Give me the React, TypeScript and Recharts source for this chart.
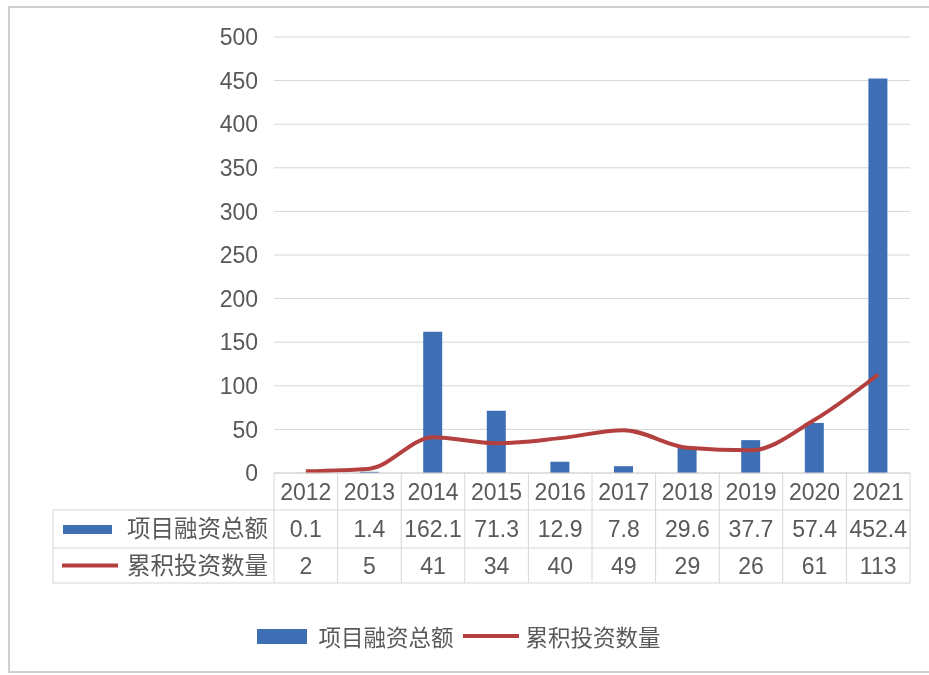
import {
  ComposedChart,
  Bar,
  Line,
  XAxis,
  YAxis,
  CartesianGrid,
  Legend,
} from 'recharts'

// 2012–2021 financing totals and cumulative deal counts
const years = ['2012', '2013', '2014', '2015', '2016', '2017', '2018', '2019', '2020', '2021']
const financing = [0.1, 1.4, 162.1, 71.3, 12.9, 7.8, 29.6, 37.7, 57.4, 452.4]
const investCount = [2, 5, 41, 34, 40, 49, 29, 26, 61, 113]
const yTicks = [0, 50, 100, 150, 200, 250, 300, 350, 400, 450, 500]

const FINANCING_LABEL = '项目融资总额'
const COUNT_LABEL = '累积投资数量'

const BLUE = '#3e6fb5'
const RED = '#b3403e'
const TEXT = '#595959'
const GRID = '#d6d6d6'
const FRAME = '#d0d0d0'
const NUM_FONT = '"Liberation Sans", Arial, sans-serif'
const CJK_FONT = '"Noto Sans CJK SC", sans-serif'

const W = 913
const H = 660
const MARGIN = { top: 29, right: 11, bottom: 0, left: 0 }
const Y_AXIS_W = 266
const TABLE_H = 110
const LEGEND_H = 85
const PLOT_W = W - MARGIN.left - MARGIN.right - Y_AXIS_W
const COL_W = PLOT_W / years.length
const PLOT_BOTTOM = H - MARGIN.bottom - LEGEND_H - TABLE_H
// row boundaries of the data table under the axis
const ROWS = [PLOT_BOTTOM, PLOT_BOTTOM + 37, PLOT_BOTTOM + 75, PLOT_BOTTOM + TABLE_H]
const HEADER_LEFT = 45

const chartData = years.map((year, i) => ({
  year,
  financing: financing[i],
  count: investCount[i],
}))

const rowMid = (r: number) => (ROWS[r] + ROWS[r + 1]) / 2

// each x tick draws one column of the data table
function TableTick(props: any) {
  const { x, index, payload } = props
  const left = x - COL_W / 2
  const right = x + COL_W / 2
  const last = index === years.length - 1
  const cell = { fill: TEXT, fontSize: 23, fontFamily: NUM_FONT, textAnchor: 'middle' as const }

  return (
    <g>
      <line x1={left} y1={ROWS[0]} x2={left} y2={ROWS[3]} stroke={GRID} />
      {last && <line x1={right} y1={ROWS[0]} x2={right} y2={ROWS[3]} stroke={GRID} />}
      <line x1={left} y1={ROWS[1]} x2={right} y2={ROWS[1]} stroke={GRID} />
      <line x1={left} y1={ROWS[2]} x2={right} y2={ROWS[2]} stroke={GRID} />
      <line x1={left} y1={ROWS[3]} x2={right} y2={ROWS[3]} stroke={GRID} />
      <text x={x} y={rowMid(0)} dy="0.36em" {...cell}>{payload.value}</text>
      <text x={x} y={rowMid(1)} dy="0.36em" {...cell}>{financing[index]}</text>
      <text x={x} y={rowMid(2)} dy="0.36em" {...cell}>{investCount[index]}</text>

      {index === 0 && (
        <g>
          <line x1={HEADER_LEFT} y1={ROWS[1]} x2={left} y2={ROWS[1]} stroke={GRID} />
          <line x1={HEADER_LEFT} y1={ROWS[2]} x2={left} y2={ROWS[2]} stroke={GRID} />
          <line x1={HEADER_LEFT} y1={ROWS[3]} x2={left} y2={ROWS[3]} stroke={GRID} />
          <line x1={HEADER_LEFT} y1={ROWS[1]} x2={HEADER_LEFT} y2={ROWS[3]} stroke={GRID} />
          <rect x={HEADER_LEFT + 10} y={rowMid(1) - 4} width={49} height={9} fill={BLUE} />
          <line
            x1={HEADER_LEFT + 9}
            y1={rowMid(2)}
            x2={HEADER_LEFT + 65}
            y2={rowMid(2)}
            stroke={RED}
            strokeWidth={4}
          />
          <text x={left - 6} y={rowMid(1)} dy="0.36em" fill={TEXT} fontSize={23.5} fontFamily={CJK_FONT} textAnchor="end">
            {FINANCING_LABEL}
          </text>
          <text x={left - 6} y={rowMid(2)} dy="0.36em" fill={TEXT} fontSize={23.5} fontFamily={CJK_FONT} textAnchor="end">
            {COUNT_LABEL}
          </text>
        </g>
      )}
    </g>
  )
}

function LegendContent() {
  const label = { fontFamily: CJK_FONT, fontSize: 22.5, color: TEXT, lineHeight: '24px' }
  return (
    <div
      style={{
        height: LEGEND_H,
        boxSizing: 'border-box',
        paddingTop: 41,
        display: 'flex',
        justifyContent: 'center',
        alignItems: 'flex-start',
      }}
    >
      <div style={{ display: 'flex', alignItems: 'center', height: 24 }}>
        <span style={{ width: 50, height: 15, background: BLUE, marginRight: 11 }} />
        <span style={label}>{FINANCING_LABEL}</span>
        <span style={{ width: 56, height: 4, background: RED, marginLeft: 9, marginRight: 7 }} />
        <span style={label}>{COUNT_LABEL}</span>
      </div>
    </div>
  )
}

export default function App() {
  return (
    <div style={{ width: W, height: H }}>
      {/* light frame, open on the right side */}
      <div
        style={{
          position: 'fixed',
          left: 8,
          top: 6,
          width: 921,
          height: 667,
          borderTop: `2px solid ${FRAME}`,
          borderLeft: `2px solid ${FRAME}`,
          borderBottom: `2px solid ${FRAME}`,
          boxSizing: 'border-box',
          pointerEvents: 'none',
        }}
      />
      <ComposedChart width={W} height={H} data={chartData} margin={MARGIN}>
        <CartesianGrid vertical={false} stroke={GRID} />
        <XAxis
          dataKey="year"
          height={TABLE_H}
          interval={0}
          tickLine={false}
          axisLine={{ stroke: GRID }}
          tick={<TableTick />}
        />
        <YAxis
          width={Y_AXIS_W}
          domain={[0, 500]}
          ticks={yTicks}
          axisLine={false}
          tickLine={false}
          tickMargin={10}
          tick={{ fill: TEXT, fontSize: 23, fontFamily: NUM_FONT }}
        />
        <Legend verticalAlign="bottom" content={<LegendContent />} />
        <Bar dataKey="financing" name={FINANCING_LABEL} fill={BLUE} barSize={19} isAnimationActive={false} />
        <Line
          dataKey="count"
          name={COUNT_LABEL}
          type="monotone"
          stroke={RED}
          strokeWidth={4}
          dot={false}
          isAnimationActive={false}
        />
      </ComposedChart>
    </div>
  )
}
